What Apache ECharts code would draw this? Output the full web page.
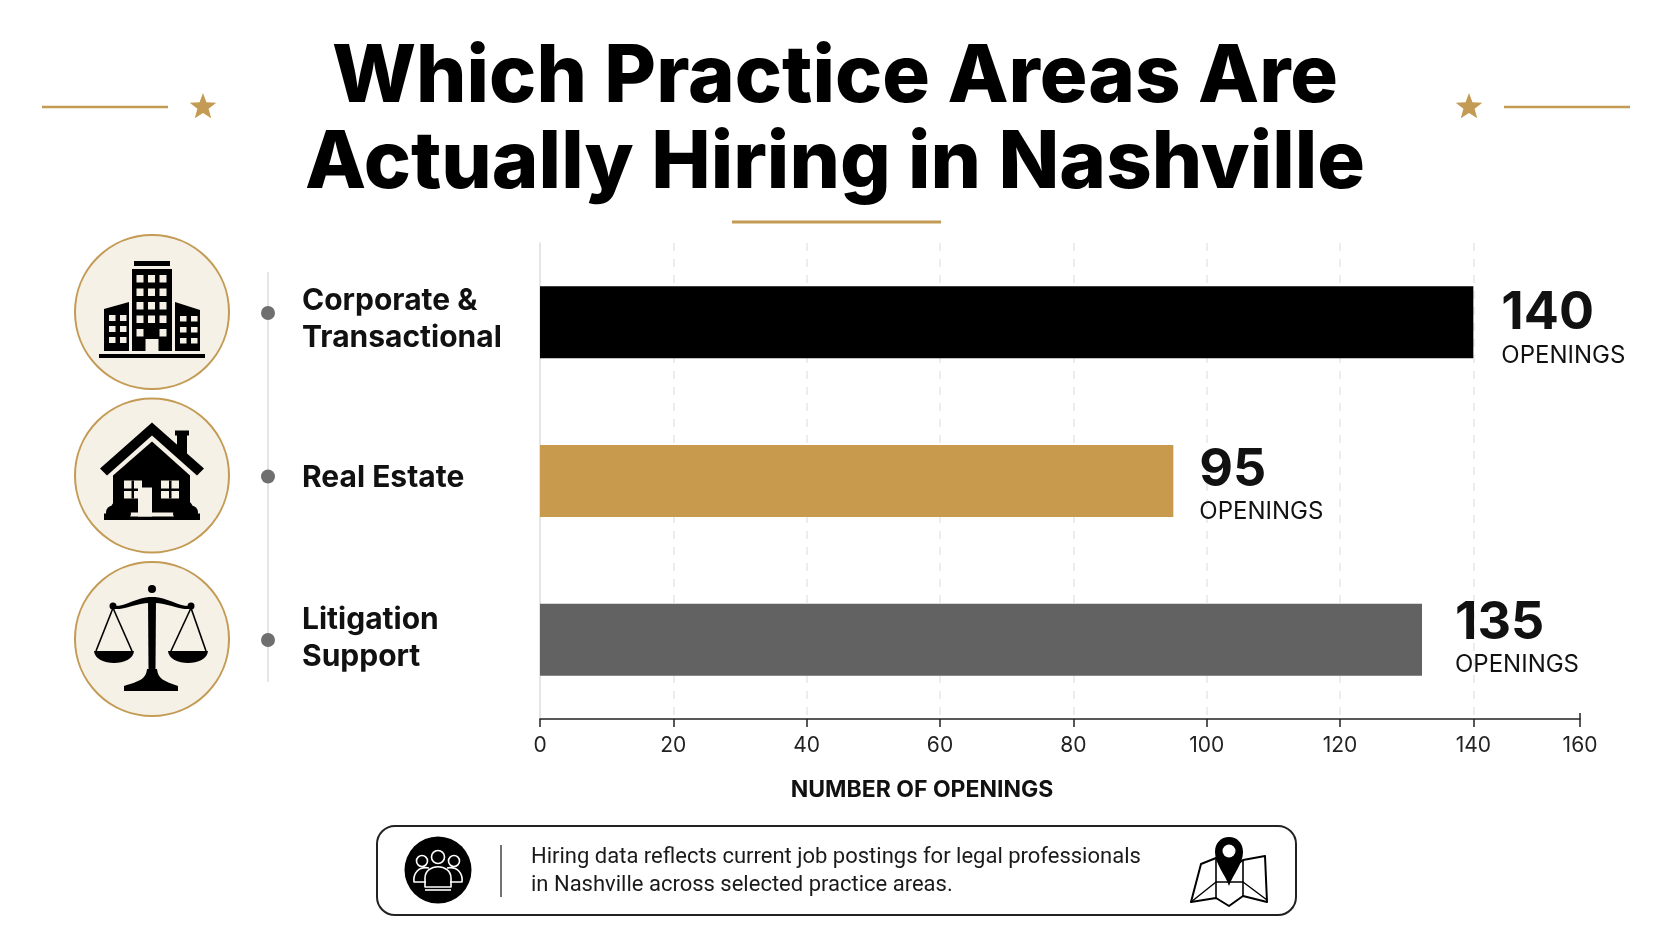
<!DOCTYPE html>
<html lang="en">
<head>
    <meta charset="UTF-8">
    <title>Which Practice Areas Are Actually Hiring in Nashville</title>
    <script src="https://cdn.jsdelivr.net/npm/echarts@6/dist/echarts.min.js"></script>
    <style>
        html, body { margin: 0; padding: 0; background: #fff; }
        #charts { width: 1672px; height: 941px; }
    </style>
</head>
<body>
<div id="charts"></div>
<script>
    // data
    var categories = ['Corporate &\nTransactional', 'Real Estate', 'Litigation\nSupport'];
    var openings = [140, 95, 135];              // the printed numbers
    var barLengths = [140, 95, 132.3];          // the reference draws the 135 bar a little short
    var xTickLabels = ['0', '20', '40', '60', '80', '100', '120', '140', '160'];

    var barColors = ['#000000', '#C79A4E', '#626262'];
    var labelGaps = [27, 25, 32];
    var labelShifts = [6, 4, -2];
    var categoryStyles = ['high', 'high', 'low'];   // rich styles that lift the left labels a little
    var axisEnd = 156;                          // the last tick sits closer than the others in the reference

    var GOLD = '#C49B55';
    var CREAM = '#F5F1E7';
    var FONT = 'Inter';

    function rect(x, y, w, h, fill, r) {
        return { type: 'rect', shape: { x: x, y: y, width: w, height: h, r: r || 0 }, style: { fill: fill } };
    }
    function poly(points, fill) {
        return { type: 'polygon', shape: { points: points }, style: { fill: fill } };
    }
    function circle(x, y, r, fill, stroke, lw) {
        return { type: 'circle', shape: { cx: x, cy: y, r: r }, style: { fill: fill, stroke: stroke, lineWidth: lw || 0 } };
    }
    function line(x1, y1, x2, y2, color, lw) {
        return { type: 'line', shape: { x1: x1, y1: y1, x2: x2, y2: y2 }, style: { stroke: color, lineWidth: lw } };
    }
    // the graphic component has no plain path type, so each svg path gets registered as a shape
    var pathCount = 0;
    function path(d, fill, stroke, lw) {
        var name = 'iconPath' + (pathCount++);
        echarts.graphic.registerShape(name, echarts.graphic.extendPath(d, {}));
        return { type: name, style: { fill: fill || 'none', stroke: stroke || 'none', lineWidth: lw || 0, lineJoin: 'round' } };
    }
    function text(x, y, str, size, weight, color, family) {
        return {
            type: 'text', x: x, y: y,
            style: { text: str, font: weight + ' ' + size + 'px ' + (family || FONT), fill: color, textAlign: 'left', textVerticalAlign: 'middle' }
        };
    }
    function star(cx, cy, r) {
        var pts = [];
        for (var i = 0; i < 10; i++) {
            var a = -Math.PI / 2 + i * Math.PI / 5;
            var d = i % 2 ? r * 0.42 : r;
            pts.push([cx + d * Math.cos(a), cy + d * Math.sin(a)]);
        }
        return poly(pts, GOLD);
    }

    function buildingIcon() {
        var c = [
            rect(-18, -51, 36, 5, '#000'),
            rect(-20, -43, 40, 82, '#000'),
            poly([[-48, -3], [-23, -10], [-23, 39], [-48, 39]], '#000'),
            poly([[23, -10], [48, -2], [48, 39], [23, 39]], '#000'),
            rect(-53, 42, 106, 4, '#000'),
            rect(-6.5, 27, 13, 12, CREAM)
        ];
        var i, j;
        for (i = 0; i < 5; i++) {
            for (j = 0; j < 3; j++) {
                if (i === 4 && j === 1) continue;
                c.push(rect(-15.5 + j * 11.5, -37 + i * 13.5, 7, 7.5, CREAM));
            }
        }
        for (i = 0; i < 3; i++) {
            for (j = 0; j < 2; j++) {
                c.push(rect(-43 + j * 11, 3 + i * 11, 6.5, 6, CREAM));
                c.push(rect(28 + j * 11, 4 + i * 11, 6.5, 5.5, CREAM));
            }
        }
        return c;
    }

    function houseIcon() {
        var c = [
            rect(23, -45, 14, 5, '#000'),
            rect(25, -42, 10, 20, '#000'),
            poly([[0, -53], [52, -7], [45, 0], [0, -40], [-45, 0], [-52, -7]], '#000'),
            poly([[0, -34], [38, 0], [38, 37], [-39, 37], [-39, 0]], '#000'),
            rect(-48, 41, 96, 3.5, '#000'),
            rect(-28, 5, 18, 18, CREAM),
            rect(-20.5, 5, 2.5, 18, '#000'),
            rect(-28, 13, 18, 2.5, '#000'),
            rect(9, 5, 18, 18, CREAM),
            rect(17, 5, 2.5, 18, '#000'),
            rect(9, 13, 18, 2.5, '#000'),
            rect(-14, 12, 14, 29, CREAM),
            circle(-39, 37, 7, '#000'), circle(-33, 33, 8, '#000'), circle(-27, 38, 6, '#000'),
            circle(39, 37, 7, '#000'), circle(33, 33, 8, '#000'), circle(27, 38, 6, '#000'),
            rect(-48, 38, 26, 6, '#000'),
            rect(22, 38, 26, 6, '#000')
        ];
        return c;
    }

    function scalesIcon() {
        return [
            circle(0, -50, 4, '#000'),
            path('M-39 -33 C-26 -32 -14 -43 0 -42 C14 -43 26 -32 39 -33 L39 -30 C26 -29 14 -37 0 -36 C-14 -37 -26 -29 -39 -30 Z', '#000'),
            circle(-39, -33, 3.5, '#000'),
            circle(39, -33, 3.5, '#000'),
            poly([[-4, -42], [4, -42], [3.5, 30], [-3.5, 30]], '#000'),
            path('M-5 30 L5 30 C6 40 12 42 26 47 L26 52 L-28 52 L-28 47 C-12 42 -6 40 -5 30 Z', '#000'),
            path('M-58 12 L-18 12 C-19 28 -57 28 -58 12 Z', '#000'),
            path('M16 12 L56 12 C55 28 17 28 16 12 Z', '#000'),
            line(-39, -31, -56, 12, '#000', 1.6),
            line(-39, -31, -20, 12, '#000', 1.6),
            line(39, -31, 19, 12, '#000', 1.6),
            line(39, -31, 54, 12, '#000', 1.6)
        ];
    }

    function peopleIcon() {
        var w = '#fff';
        return [
            circle(-16, -10, 5.5, 'none', w, 1.6),
            circle(16, -10, 5.5, 'none', w, 1.6),
            circle(0, -14, 6.5, 'none', w, 1.6),
            path('M-9 -3 C-20 -5 -25 3 -24 11 L-12 11', 'none', w, 1.6),
            path('M9 -3 C20 -5 25 3 24 11 L12 11', 'none', w, 1.6),
            path('M-13 16 L-13 7 C-13 -8 13 -8 13 7 L13 16 Z', 'none', w, 1.6),
            line(-13, 19, 13, 19, w, 1.6)
        ];
    }

    function mapIcon() {
        return [
            path('M-38 24 L-28 -14 L-13 -20 L0 -8 L14 -18 L36 -22 L38 24 L14 18 L0 28 L-13 20 Z', 'none', '#000', 2),
            line(-13, -20, -13, 20, '#000', 1.6),
            line(14, -18, 14, 18, '#000', 1.6),
            path('M-38 24 L-13 4 L14 4 L38 22', 'none', '#000', 1.4),
            path('M0 8 C-4 -4 -14 -14 -14 -26 C-14 -35 -8 -41 0 -41 C8 -41 14 -35 14 -26 C14 -14 4 -4 0 8 Z', '#000'),
            circle(0, -27, 6.5, '#fff')
        ];
    }

    var iconCenters = [312, 475.5, 639];
    var iconMakers = [buildingIcon, houseIcon, scalesIcon];

    var graphics = [
        line(42, 107, 168, 107, GOLD, 2.5),
        star(203, 107, 14),
        star(1469, 107, 14),
        line(1504, 107, 1630, 107, GOLD, 2.5),
        line(732, 222, 941, 222, GOLD, 3),
        line(268, 272, 268, 682, '#DCDCDC', 1.5),
        line(1580, 713, 1580, 719, '#222', 1.5)
    ];
    iconCenters.forEach(function (cy, i) {
        graphics.push(circle(152, cy, 77, CREAM, GOLD, 2));
        graphics.push({ type: 'group', x: 152, y: cy, children: iconMakers[i]() });
        graphics.push(circle(268, cy + 1, 7, '#6F6F6F'));
    });
    // note box at the bottom
    graphics.push({
        type: 'rect', shape: { x: 377, y: 826, width: 919, height: 89, r: 18 },
        style: { fill: '#fff', stroke: '#222', lineWidth: 2 }
    });
    graphics.push(circle(438, 870, 33.5, '#000'));
    graphics.push({ type: 'group', x: 438, y: 871, children: peopleIcon() });
    graphics.push(line(501, 845, 501, 897, '#444', 1.5));
    graphics.push(text(531, 857, 'Hiring data reflects current job postings for legal professionals', 22, 400, '#1a1a1a', 'Roboto'));
    graphics.push(text(531, 885, 'in Nashville across selected practice areas.', 22, 400, '#1a1a1a', 'Roboto'));
    graphics.push({ type: 'group', x: 1229, y: 878, children: mapIcon() });

    function categoryRich(padBottom) {
        return {
            fontFamily: FONT, fontWeight: 700, fontSize: 30, color: '#111',
            lineHeight: 37,
            padding: [0, 0, padBottom, 0]
        };
    }

    var option = {
        backgroundColor: '#ffffff',
        animation: false,
        title: {
            text: 'Which Practice Areas Are\nActually Hiring in Nashville',
            left: 830,
            top: 30,
            textAlign: 'center',
            textStyle: { fontFamily: FONT, fontWeight: 800, fontSize: 79.5, lineHeight: 86, color: '#000' }
        },
        grid: { left: 540, right: 92, top: 243, bottom: 222 },
        xAxis: {
            type: 'value',
            min: 0,
            max: axisEnd,
            interval: 20,
            name: 'NUMBER OF OPENINGS',
            nameLocation: 'middle',
            nameGap: 60,
            nameTextStyle: { fontFamily: FONT, fontWeight: 700, fontSize: 23, color: '#111', padding: [0, 276, 0, 0] },
            axisLine: { show: true, lineStyle: { color: '#222', width: 1.5 } },
            axisTick: { show: true, length: 8, lineStyle: { color: '#222', width: 1.5 } },
            axisLabel: {
                fontFamily: FONT, fontSize: 21, color: '#222', margin: 16,
                showMinLabel: true, showMaxLabel: true,
                formatter: function (value, index) { return xTickLabels[index]; }
            },
            splitLine: { show: true, showMinLine: false, showMaxLine: false, lineStyle: { color: '#E8E8E8', type: [8, 8], width: 1.5 } }
        },
        yAxis: {
            type: 'category',
            inverse: true,
            data: categories,
            axisLine: { show: true, lineStyle: { color: '#DCDCDC', width: 1.5 } },
            axisTick: { show: false },
            axisLabel: {
                align: 'left',
                margin: 238,
                formatter: function (value, index) {
                    return value.split('\n').map(function (part) {
                        return '{' + categoryStyles[index] + '|' + part + '}';
                    }).join('\n');
                },
                rich: { high: categoryRich(6), low: categoryRich(2) }
            }
        },
        series: [{
            type: 'bar',
            barWidth: 72,
            data: barLengths.map(function (v, i) {
                return {
                    value: v,
                    itemStyle: { color: barColors[i] },
                    label: { distance: labelGaps[i], offset: [1, labelShifts[i]] }
                };
            }),
            label: {
                show: true,
                position: 'right',
                formatter: function (p) {
                    return '{num|' + openings[p.dataIndex] + '}\n{unit|OPENINGS}';
                },
                rich: {
                    num: { fontFamily: FONT, fontWeight: 700, fontSize: 52, lineHeight: 54, color: '#111' },
                    unit: { fontFamily: FONT, fontWeight: 400, fontSize: 24, lineHeight: 29, color: '#111' }
                }
            }
        }],
        graphic: { elements: graphics }
    };

    var myChart = echarts.init(document.getElementById('charts'));
    myChart.setOption(option);
</script>
</body>
</html>
